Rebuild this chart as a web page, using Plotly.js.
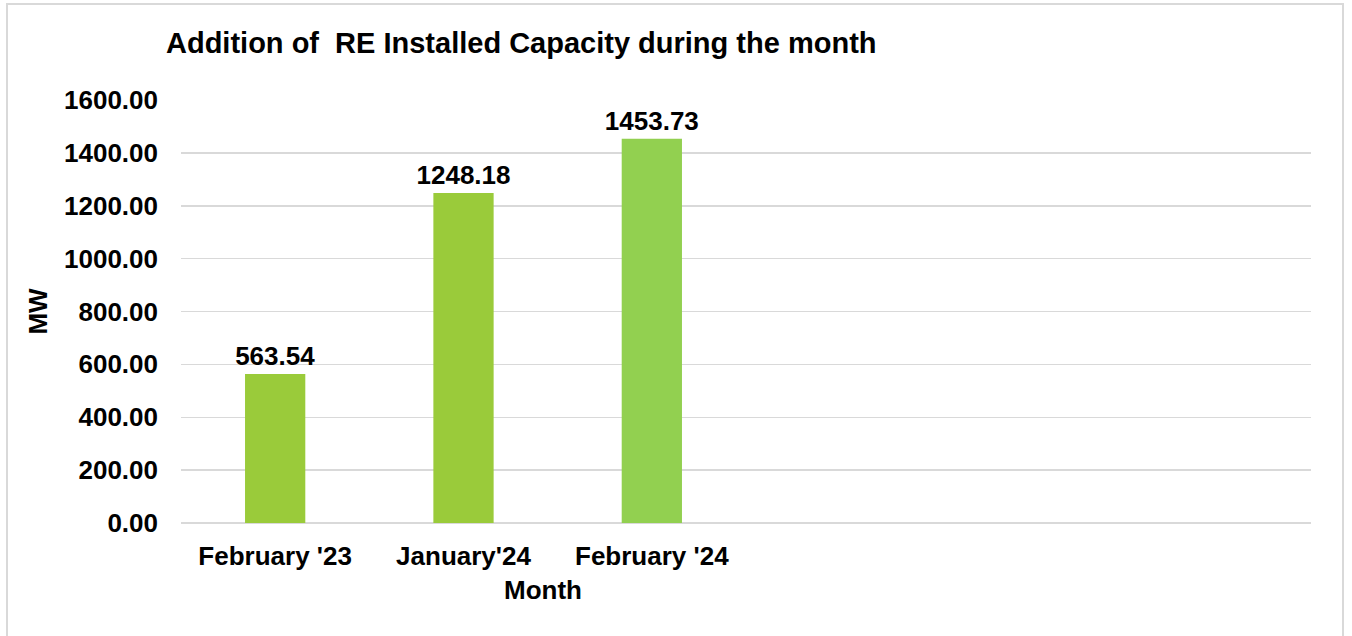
<!DOCTYPE html>
<html>
<head>
<meta charset="utf-8">
<script src="https://cdn.plot.ly/plotly-3.0.1.min.js"></script>
<style>
  html, body { margin: 0; padding: 0; background: #ffffff; overflow: hidden; }
  #frame { position: absolute; left: 6px; top: 3px; width: 1338px; height: 660px; border: 2px solid #d9d9d9; box-sizing: border-box; pointer-events: none; z-index: 5; }
  #chart { position: absolute; left: 0; top: 0; width: 1352px; height: 636px; }
</style>
</head>
<body>
<div id="chart"></div>
<div id="frame"></div>
<script>
const categories = ["February '23", "January'24", "February '24"];
const values = [563.54, 1248.18, 1453.73];
const barColors = ["#9ACB3A", "#9ACB3A", "#92D050"];
const yTickValues = [0, 200, 400, 600, 800, 1000, 1200, 1400, 1600];
const totalSlots = 6;

const positions = categories.map((c, i) => i);
const font = "Liberation Sans, Arial, sans-serif";

const trace = {
  type: 'bar',
  x: positions,
  y: values,
  width: 0.32,
  marker: { color: barColors },
  text: values.map(v => v.toFixed(2)),
  textposition: 'outside',
  constraintext: 'none',
  cliponaxis: false,
  textfont: { family: font, size: 26, color: '#000000', weight: 'bold' },
  hoverinfo: 'x+y'
};

const layout = {
  width: 1352,
  height: 636,
  margin: { l: 181, r: 41, t: 100, b: 113 },
  paper_bgcolor: '#ffffff',
  plot_bgcolor: '#ffffff',
  showlegend: false,
  font: { family: font, color: '#000000' },
  title: {
    text: 'Addition of\u00a0\u00a0RE Installed Capacity during the month',
    font: { family: font, size: 29, color: '#000000', weight: 'bold' },
    xref: 'container', yref: 'container',
    x: 166 / 1352, xanchor: 'left',
    y: 1 - 43 / 636, yanchor: 'middle'
  },
  xaxis: {
    range: [-0.5, totalSlots - 0.5],
    tickvals: positions,
    ticktext: categories,
    tickfont: { family: font, size: 26, color: '#000000', weight: 'bold' },
    showgrid: false,
    zeroline: false,
    showline: false,
    ticks: '',
    ticklabelstandoff: 15,
    fixedrange: true
  },
  yaxis: {
    range: [0, 1600],
    tickvals: yTickValues,
    ticktext: yTickValues.map(v => v.toFixed(2)),
    tickfont: { family: font, size: 26, color: '#000000', weight: 'bold' },
    showgrid: true,
    gridcolor: '#d9d9d9',
    gridwidth: 1.5,
    zeroline: true,
    zerolinecolor: '#d9d9d9',
    zerolinewidth: 1.5,
    showline: false,
    ticks: '',
    ticklabelstandoff: 22,
    title: { text: 'MW', font: { family: font, size: 26, color: '#000000', weight: 'bold' }, standoff: 8 },
    fixedrange: true
  },
  annotations: [{
    text: 'Month',
    xref: 'paper', yref: 'paper',
    x: (543 - 181) / (1352 - 181 - 41), xanchor: 'center',
    y: -(590 - 523) / (636 - 100 - 113), yanchor: 'middle',
    showarrow: false,
    font: { family: font, size: 26, color: '#000000', weight: 'bold' }
  }]
};

Plotly.newPlot('chart', [trace], layout, { displayModeBar: false, staticPlot: true });
</script>
</body>
</html>
